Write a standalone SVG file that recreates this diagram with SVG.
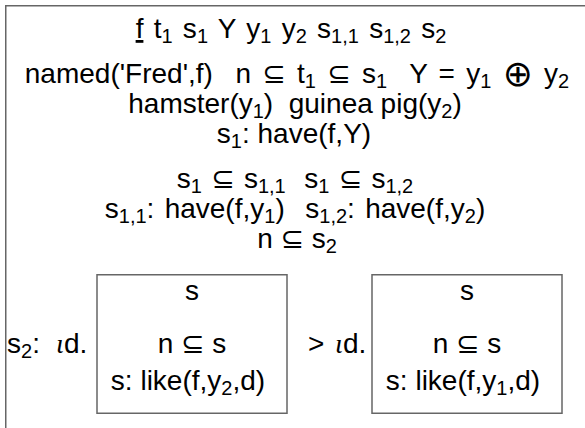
<svg xmlns="http://www.w3.org/2000/svg" width="585" height="428" viewBox="0 0 585 428">
<style>
text{font-family:"Liberation Sans","DejaVu Sans",sans-serif;font-size:28px;fill:#000}
.c{text-anchor:middle}
.s{font-size:20px}
.i{font-family:"Liberation Serif","DejaVu Serif",serif;font-style:italic;font-size:28px}
.op{font-family:"DejaVu Sans",sans-serif;font-size:36px}
.box{fill:none;stroke:#666;stroke-width:1.5}
</style>
<rect width="585" height="428" fill="#fff"/>
<g id="outer">
<path class="box" d="M5.75,428 V5.75 H585"/>
<text class="c" x="291" y="38" xml:space="preserve" word-spacing="2.5"><tspan text-decoration="underline">f</tspan> t<tspan class="s" dy="5">1</tspan><tspan dy="-5"> s</tspan><tspan class="s" dy="5">1</tspan><tspan dy="-5"> Y y</tspan><tspan class="s" dy="5">1</tspan><tspan dy="-5"> y</tspan><tspan class="s" dy="5">2</tspan><tspan dy="-5"> s</tspan><tspan class="s" dy="5">1,1</tspan><tspan dy="-5"> s</tspan><tspan class="s" dy="5">1,2</tspan><tspan dy="-5"> s</tspan><tspan class="s" dy="5">2</tspan></text>
<text class="c" x="297" y="83" xml:space="preserve" word-spacing="3.5">named('Fred',f)  n ⊆ t<tspan class="s" dy="5">1</tspan><tspan dy="-5"> ⊆ s</tspan><tspan class="s" dy="5">1</tspan><tspan dy="-5">  Y = y</tspan><tspan class="s" dy="5">1</tspan><tspan dy="-5"> </tspan><tspan class="op" dy="3">⊕</tspan><tspan dy="-3"> y</tspan><tspan class="s" dy="5">2</tspan></text>
<text class="c" x="295" y="113" xml:space="preserve">hamster(y<tspan class="s" dy="5">1</tspan><tspan dy="-5">)  guinea pig(y</tspan><tspan class="s" dy="5">2</tspan><tspan dy="-5">)</tspan></text>
<text class="c" x="294" y="143" xml:space="preserve">s<tspan class="s" dy="5">1</tspan><tspan dy="-5">: have(f,Y)</tspan></text>
<text class="c" x="295" y="188" xml:space="preserve" word-spacing="1.5">s<tspan class="s" dy="5">1</tspan><tspan dy="-5"> ⊆ s</tspan><tspan class="s" dy="5">1,1</tspan><tspan dy="-5">  s</tspan><tspan class="s" dy="5">1</tspan><tspan dy="-5"> ⊆ s</tspan><tspan class="s" dy="5">1,2</tspan></text>
<text class="c" x="295" y="218" xml:space="preserve" word-spacing="2.5">s<tspan class="s" dy="5">1,1</tspan><tspan dy="-5">: have(f,y</tspan><tspan class="s" dy="5">1</tspan><tspan dy="-5">)  s</tspan><tspan class="s" dy="5">1,2</tspan><tspan dy="-5">: have(f,y</tspan><tspan class="s" dy="5">2</tspan><tspan dy="-5">)</tspan></text>
<text class="c" x="297" y="248" xml:space="preserve">n ⊆ s<tspan class="s" dy="5">2</tspan></text>
<text x="7" y="353" xml:space="preserve">s<tspan class="s" dy="5">2</tspan><tspan dy="-5">:</tspan><tspan class="i" x="56">ι</tspan><tspan x="64">d.</tspan></text>
<text x="308" y="353" xml:space="preserve">&gt;<tspan class="i" x="335">ι</tspan><tspan x="343">d.</tspan></text>
</g>
<g id="box1">
<rect class="box" x="97" y="274.75" width="190" height="138.5"/>
<text class="c" x="192" y="300">s</text>
<text class="c" x="192" y="353">n ⊆ s</text>
<text class="c" x="188" y="390" xml:space="preserve">s: like(f,y<tspan class="s" dy="5">2</tspan><tspan dy="-5">,d)</tspan></text>
</g>
<g id="box2">
<rect class="box" x="372" y="274.75" width="190" height="138.5"/>
<text class="c" x="467" y="300">s</text>
<text class="c" x="467" y="353">n ⊆ s</text>
<text class="c" x="463" y="390" xml:space="preserve">s: like(f,y<tspan class="s" dy="5">1</tspan><tspan dy="-5">,d)</tspan></text>
</g>
<g id="connectors"></g>
</svg>
